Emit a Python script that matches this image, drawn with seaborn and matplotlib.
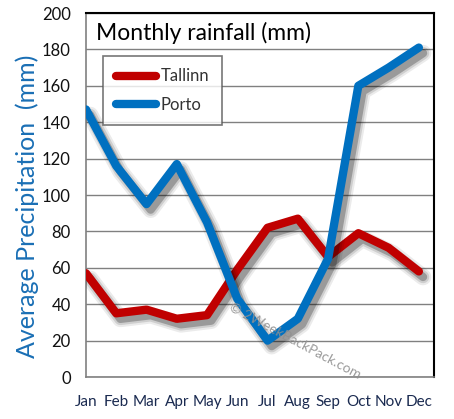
import matplotlib
matplotlib.use("Agg")
import matplotlib.pyplot as plt
import matplotlib.patheffects as pe
import seaborn as sns
import pandas as pd

months = ["Jan", "Feb", "Mar", "Apr", "May", "Jun", "Jul", "Aug", "Sep", "Oct", "Nov", "Dec"]
tallinn = [57, 35, 37, 32, 34, 59, 82, 87, 66, 79, 71, 58]
porto = [147, 116, 95, 117, 85, 43, 20, 32, 65, 160, 170, 181]
yticks = [0, 20, 40, 60, 80, 100, 120, 140, 160, 180, 200]

df = pd.DataFrame({
    "month": list(range(12)) * 2,
    "value": tallinn + porto,
    "city": ["Tallinn"] * 12 + ["Porto"] * 12,
})

sns.set_style("white")
plt.rcParams["font.family"] = ["Lato", "DejaVu Sans"]

fig = plt.figure(figsize=(4.54, 4.19), dpi=100)
ax = fig.add_axes([86 / 454, 1 - 377 / 419, 348 / 454, 364 / 419])

for y in yticks:
    ax.axhline(y, color="#808080", lw=1.0, zorder=0)

palette = {"Tallinn": "#c00000", "Porto": "#0070c0"}
sns.lineplot(data=df, x="month", y="value", hue="city", palette=palette,
             lw=6, ax=ax, legend=True, zorder=3)

shadow = [pe.SimpleLineShadow(offset=(3, -4), shadow_color="#000000", alpha=0.08, linewidth=12),
          pe.SimpleLineShadow(offset=(3, -4), shadow_color="#000000", alpha=0.12, linewidth=9),
          pe.SimpleLineShadow(offset=(3, -4), shadow_color="#000000", alpha=0.25, linewidth=6),
          pe.Normal()]
for ln in ax.get_lines():
    if len(ln.get_xdata()) == 12:
        ln.set_path_effects(shadow)
        ln.set_solid_joinstyle("round")
        ln.set_solid_capstyle("round")

ax.set_xlim(0, 11.5)
ax.set_ylim(0, 200)
ax.set_xticks(range(12))
ax.set_xticklabels(months, fontsize=11, color="#1a2a50")
ax.set_yticks(yticks)
ax.set_yticklabels([str(v) for v in yticks], fontsize=12, color="#111111")
ax.tick_params(axis="both", length=5, width=1, color="#808080", direction="out", pad=6)
ax.tick_params(axis="x", pad=8)
ax.set_xlabel("")
ax.set_ylabel("Average Precipitation  (mm)", fontsize=18, color="#1a6fb5",
              fontweight="normal")
ax.yaxis.set_label_coords(-0.135, 0.47)

for s in ["left", "bottom"]:
    ax.spines[s].set_color("#808080")
    ax.spines[s].set_linewidth(1.2)
for s in ["top", "right"]:
    ax.spines[s].set_color("#000000")
    ax.spines[s].set_linewidth(1.5)

ax.text(0.03, 0.975, "Monthly rainfall (mm)", transform=ax.transAxes, fontsize=16.5,
        ha="left", va="top", color="#000000")

ax.text(0.60, 0.10, "\u00a9 2WeekBackPack.com", transform=ax.transAxes, fontsize=10,
        rotation=-28, ha="center", va="center", color="#909090", alpha=0.9, zorder=5)

handles, labels = ax.get_legend_handles_labels()
for h in handles:
    h.set_linewidth(6)
    h.set_solid_capstyle("round")
leg = ax.legend(handles, labels, loc="upper left", bbox_to_anchor=(0.049, 0.882),
                frameon=True, fancybox=False, fontsize=12, handlelength=2.4,
                borderpad=0.75, labelspacing=0.75, handletextpad=0.3,
                borderaxespad=0)
leg.get_frame().set_edgecolor("#555555")
leg.get_frame().set_linewidth(1.2)
for t in leg.get_texts():
    t.set_color("#333333")
leg.set_zorder(6)

fig.savefig("out.png", dpi=100)
